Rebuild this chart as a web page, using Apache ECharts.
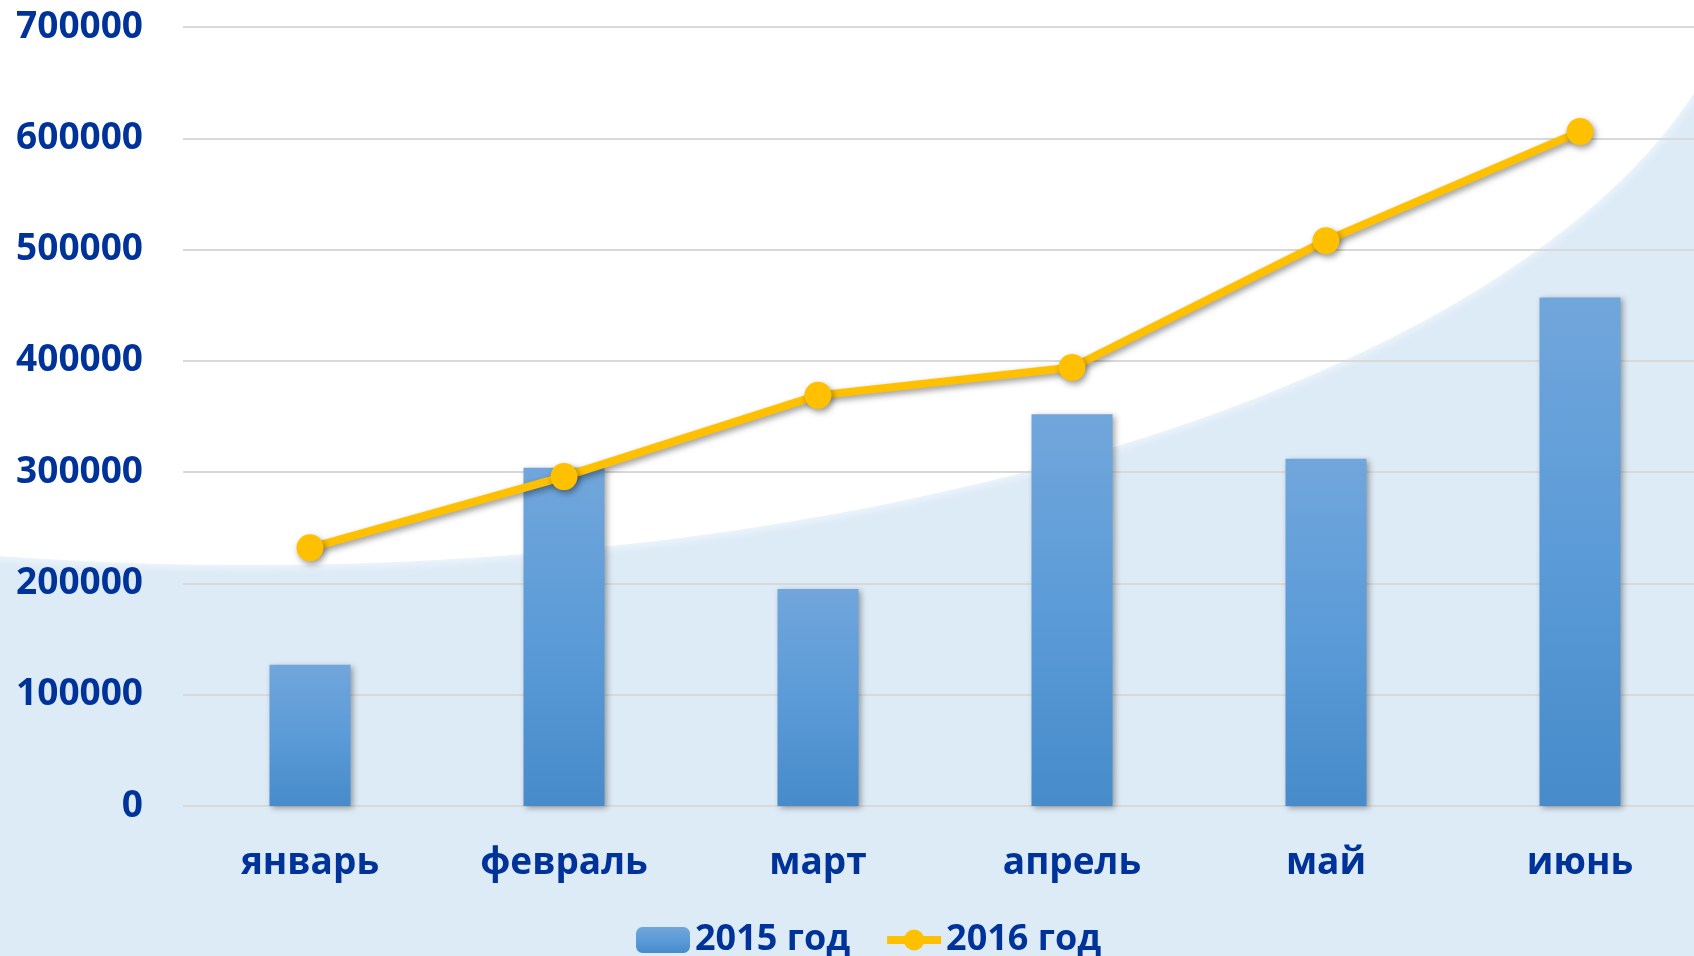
<!DOCTYPE html>
<html>
<head>
<meta charset="utf-8">
<script src="https://cdn.jsdelivr.net/npm/echarts@6/dist/echarts.min.js"></script>
<style>
  html, body { margin: 0; padding: 0; background: #ddebf7; overflow: hidden; }
  /* plot area runs a little past the right edge, as in the original */
  #main { width: 1707px; height: 956px; }
</style>
</head>
<body>
<div id="main"></div>
<script>
var months = ['январь', 'февраль', 'март', 'апрель', 'май', 'июнь'];
var sales2015 = [127000, 304000, 195000, 352000, 312000, 457000];
var sales2016 = [232000, 296000, 369000, 394000, 508000, 606000];

var chart = echarts.init(document.getElementById('main'));
var font = '"Open Sans", "Noto Sans", sans-serif';
var textBlue = '#003399';

var option = {
    backgroundColor: '#ddebf7',
    animation: false,
    // white swoosh in the background
    graphic: [{
        type: 'circle',
        z: -10,
        x: 250,
        y: -82,
        scaleX: 1500 / 647,
        scaleY: 1,
        shape: { cx: 0, cy: 0, r: 647 },
        style: {
            fill: '#ffffff',
            shadowBlur: 12,
            shadowColor: 'rgba(255,255,255,0.9)'
        },
        silent: true
    }],
    grid: {
        left: 183,
        top: 27,
        right: 0,
        bottom: 150
    },
    legend: {
        left: 631,
        top: 917,
        itemWidth: 54,
        itemHeight: 26,
        itemGap: 33,
        lineStyle: { width: 8 },
        textStyle: {
            fontFamily: font,
            fontWeight: 'bold',
            fontSize: 36,
            color: textBlue
        },
        data: ['2015 год', '2016 год']
    },
    xAxis: {
        type: 'category',
        data: months,
        axisLine: { show: false },
        axisTick: { show: false },
        axisLabel: {
            margin: 39,
            fontFamily: font,
            fontWeight: 'bold',
            fontSize: 37,
            color: textBlue
        }
    },
    yAxis: {
        type: 'value',
        min: 0,
        max: 700000,
        interval: 100000,
        axisLine: { show: false },
        axisTick: { show: false },
        splitLine: { lineStyle: { color: '#d9d9d9', width: 2 } },
        axisLabel: {
            margin: 40,
            fontFamily: font,
            fontWeight: 'bold',
            fontSize: 37,
            color: textBlue,
            formatter: function (v) { return String(v); }
        }
    },
    series: [{
        name: '2015 год',
        type: 'bar',
        data: sales2015,
        barWidth: 81,
        itemStyle: {
            color: new echarts.graphic.LinearGradient(0, 0, 0, 1, [
                { offset: 0, color: '#71a6db' },
                { offset: 0.5, color: '#5b9bd8' },
                { offset: 1, color: '#478bca' }
            ]),
            shadowBlur: 6,
            shadowColor: 'rgba(0,0,0,0.35)',
            shadowOffsetX: 2,
            shadowOffsetY: 2
        }
    }, {
        name: '2016 год',
        type: 'line',
        data: sales2016,
        symbol: 'circle',
        symbolSize: 27,
        lineStyle: {
            color: '#ffc000',
            width: 8,
            shadowBlur: 6,
            shadowColor: 'rgba(0,0,0,0.4)',
            shadowOffsetX: 2,
            shadowOffsetY: 3
        },
        itemStyle: {
            color: '#ffc000',
            shadowBlur: 6,
            shadowColor: 'rgba(0,0,0,0.4)',
            shadowOffsetX: 2,
            shadowOffsetY: 3
        }
    }]
};

chart.setOption(option);
</script>
</body>
</html>
